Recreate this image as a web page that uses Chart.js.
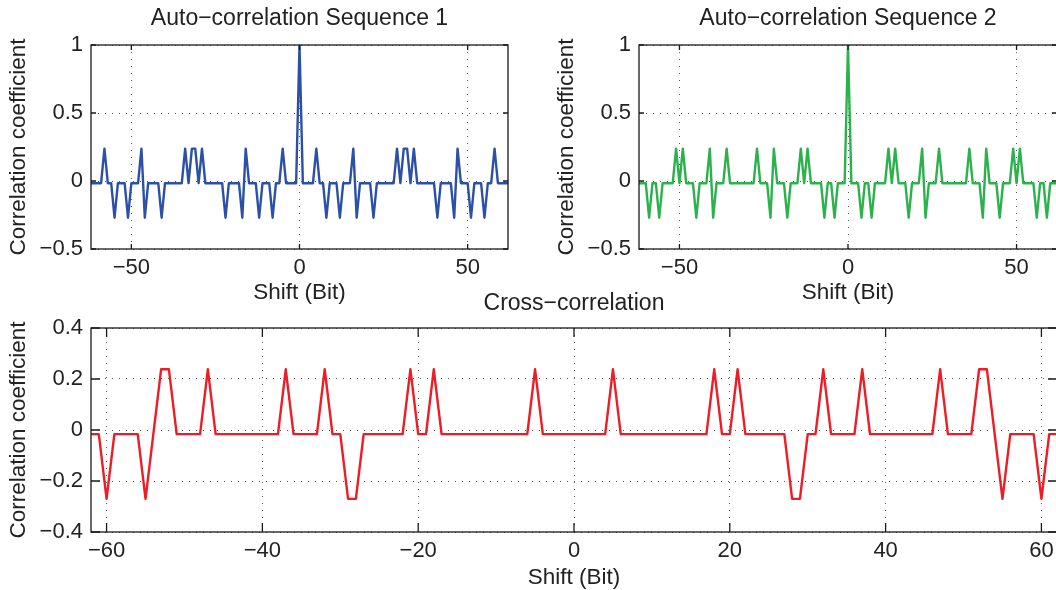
<!DOCTYPE html>
<html>
<head>
<meta charset="utf-8">
<script src="https://cdn.jsdelivr.net/npm/chart.js@4.4.1/dist/chart.umd.min.js"></script>
<style>
    html, body { margin: 0; padding: 0; background: #fff; }
    body { position: relative; width: 1056px; height: 590px; overflow: hidden; }
    canvas { position: absolute; }
    #auto1 { left: 0; top: 0; }
    #auto2 { left: 548px; top: 0; }
    #cross { left: 0; top: 280px; }
</style>
</head>
<body>
<canvas id="auto1" width="520" height="312"></canvas>
<canvas id="auto2" width="520" height="312"></canvas>
<canvas id="cross" width="1068" height="318"></canvas>
<script>
// correlation levels of a length-63 Gold code: 15/63, -1/63, -17/63
const P = 0.238, Z = -0.016, N = -0.27;

const shifts = [
    -62, -61, -60, -59, -58, -57, -56, -55, -54, -53,
    -52, -51, -50, -49, -48, -47, -46, -45, -44, -43,
    -42, -41, -40, -39, -38, -37, -36, -35, -34, -33,
    -32, -31, -30, -29, -28, -27, -26, -25, -24, -23,
    -22, -21, -20, -19, -18, -17, -16, -15, -14, -13,
    -12, -11, -10, -9, -8, -7, -6, -5, -4, -3,
    -2, -1, 0, 1, 2, 3, 4, 5, 6, 7,
    8, 9, 10, 11, 12, 13, 14, 15, 16, 17,
    18, 19, 20, 21, 22, 23, 24, 25, 26, 27,
    28, 29, 30, 31, 32, 33, 34, 35, 36, 37,
    38, 39, 40, 41, 42, 43, 44, 45, 46, 47,
    48, 49, 50, 51, 52, 53, 54, 55, 56, 57,
    58, 59, 60, 61, 62
];

const autoSeq1 = [
    Z, Z, Z, Z, P, Z, Z, N, Z, Z,
    Z, N, Z, Z, Z, P, N, Z, Z, Z,
    Z, N, Z, Z, Z, Z, Z, Z, P, Z,
    P, P, Z, P, Z, Z, Z, Z, Z, Z,
    N, Z, Z, Z, Z, N, P, Z, Z, Z,
    N, Z, Z, Z, N, Z, Z, P, Z, Z,
    Z, Z, 1, Z, Z, Z, Z, P, Z, Z,
    N, Z, Z, Z, N, Z, Z, Z, P, N,
    Z, Z, Z, Z, N, Z, Z, Z, Z, Z,
    Z, P, Z, P, P, Z, P, Z, Z, Z,
    Z, Z, Z, N, Z, Z, Z, Z, N, P,
    Z, Z, Z, N, Z, Z, Z, N, Z, Z,
    P, Z, Z, Z, Z
];

const autoSeq2 = [
    Z, Z, Z, N, Z, Z, N, Z, Z, Z,
    Z, P, Z, P, Z, Z, Z, N, Z, Z,
    Z, P, N, Z, Z, Z, P, Z, Z, Z,
    Z, Z, Z, Z, Z, P, Z, Z, Z, N,
    P, Z, Z, Z, N, Z, Z, Z, P, Z,
    P, Z, Z, Z, Z, N, Z, Z, N, Z,
    Z, Z, 1, Z, Z, Z, N, Z, Z, N,
    Z, Z, Z, Z, P, Z, P, Z, Z, Z,
    N, Z, Z, Z, P, N, Z, Z, Z, P,
    Z, Z, Z, Z, Z, Z, Z, Z, P, Z,
    Z, Z, N, P, Z, Z, Z, N, Z, Z,
    Z, P, Z, P, Z, Z, Z, Z, N, Z,
    Z, N, Z, Z, Z
];

const crossSeq = [
    Z, Z, N, Z, Z, Z, Z, N, Z, P,
    P, Z, Z, Z, Z, P, Z, Z, Z, Z,
    Z, Z, Z, Z, Z, P, Z, Z, Z, Z,
    P, Z, Z, N, N, Z, Z, Z, Z, Z,
    Z, P, Z, Z, P, Z, Z, Z, Z, Z,
    Z, Z, Z, Z, Z, Z, Z, P, Z, Z,
    Z, Z, Z, Z, Z, Z, Z, P, Z, Z,
    Z, Z, Z, Z, Z, Z, Z, Z, Z, Z,
    P, Z, Z, P, Z, Z, Z, Z, Z, Z,
    N, N, Z, Z, P, Z, Z, Z, Z, P,
    Z, Z, Z, Z, Z, Z, Z, Z, Z, P,
    Z, Z, Z, Z, P, P, Z, N, Z, Z,
    Z, Z, N, Z, Z
];

const autoXTicks = [-50, 0, 50];
const autoYTicks = [-0.5, 0, 0.5, 1];
const crossXTicks = [-60, -40, -20, 0, 20, 40, 60];
const crossYTicks = [-0.4, -0.2, 0, 0.2, 0.4];

Chart.defaults.font.family = '"Liberation Sans", Arial, Helvetica, sans-serif';
Chart.defaults.color = '#222';

const minus = v => String(v).replace('-', '\u2212');

// box around the axes with inward ticks, like the original figure
const framePlugin = {
    id: 'frame',
    afterDatasetsDraw(chart, args, opts) {
        const { ctx, chartArea: a, scales } = chart;
        const len = opts.tickLen || 5;
        ctx.save();
        ctx.strokeStyle = '#1a1a1a';
        ctx.lineWidth = 1.3;
        ctx.beginPath();
        scales.x.ticks.forEach(t => {
            const px = scales.x.getPixelForValue(t.value);
            ctx.moveTo(px, a.bottom); ctx.lineTo(px, a.bottom - len);
            ctx.moveTo(px, a.top); ctx.lineTo(px, a.top + len);
        });
        scales.y.ticks.forEach(t => {
            const py = scales.y.getPixelForValue(t.value);
            ctx.moveTo(a.left, py); ctx.lineTo(a.left + len, py);
            ctx.moveTo(a.right, py); ctx.lineTo(a.right - len, py);
        });
        ctx.stroke();
        ctx.strokeRect(a.left, a.top, a.right - a.left, a.bottom - a.top);
        ctx.restore();
    }
};

function makeChart(id, o) {
    const ctx = document.getElementById(id);
    return new Chart(ctx, {
        type: 'line',
        data: {
            datasets: [{
                data: shifts.map((s, i) => ({ x: s, y: o.values[i] })),
                borderColor: o.color,
                borderWidth: 2.4,
                borderJoinStyle: 'round',
                borderCapStyle: 'round',
                pointRadius: 0,
                tension: 0,
                fill: false
            }]
        },
        plugins: [framePlugin],
        options: {
            responsive: false,
            animation: false,
            layout: { padding: { left: 0, right: o.padRight, top: 0, bottom: 0 } },
            plugins: {
                legend: { display: false },
                tooltip: { enabled: false },
                frame: { tickLen: o.tickLen },
                title: {
                    display: true,
                    text: o.title,
                    fullSize: false,
                    color: '#222',
                    font: { size: 23, weight: 'normal' },
                    padding: { top: o.titleTop, bottom: o.titleBottom }
                }
            },
            scales: {
                x: {
                    type: 'linear',
                    min: -62,
                    max: 62,
                    afterBuildTicks: s => { s.ticks = o.xTicks.map(v => ({ value: v })); },
                    afterFit: s => { s.height = o.xAxisHeight; },
                    grid: { color: 'rgba(0,0,0,0.65)', lineWidth: 1, drawTicks: false },
                    border: { display: false, dash: [1, 6] },
                    ticks: { padding: 6, font: { size: 22 }, color: '#222', callback: minus, maxRotation: 0 },
                    title: { display: true, text: 'Shift (Bit)', color: '#222', font: { size: 22.5 }, padding: { top: 0, bottom: o.xTitleBottom } }
                },
                y: {
                    min: o.yMin,
                    max: o.yMax,
                    afterBuildTicks: s => { s.ticks = o.yTicks.map(v => ({ value: v })); },
                    afterFit: s => { s.width = 91; },
                    grid: { color: 'rgba(0,0,0,0.65)', lineWidth: 1, drawTicks: false },
                    border: { display: false, dash: [1, 6] },
                    ticks: { padding: 8, font: { size: 22 }, color: '#222', callback: minus },
                    title: { display: true, text: 'Correlation coefficient', color: '#222', font: { size: 22.5 }, padding: { top: 5.5, bottom: 0 } }
                }
            }
        }
    });
}

makeChart('auto1', {
    values: autoSeq1, color: '#2b50a6', title: 'Auto\u2212correlation Sequence 1',
    xTicks: autoXTicks, yTicks: autoYTicks, yMin: -0.5, yMax: 1,
    padRight: 12, titleTop: 5.2, titleBottom: 12.2, xAxisHeight: 63, xTitleBottom: 5.5, tickLen: 5
});

makeChart('auto2', {
    values: autoSeq2, color: '#2bb24c', title: 'Auto\u2212correlation Sequence 2',
    xTicks: autoXTicks, yTicks: autoYTicks, yMin: -0.5, yMax: 1,
    padRight: 11, titleTop: 5.2, titleBottom: 12.2, xAxisHeight: 63, xTitleBottom: 5.5, tickLen: 5
});

makeChart('cross', {
    values: crossSeq, color: '#ee1c25', title: 'Cross\u2212correlation',
    xTicks: crossXTicks, yTicks: crossYTicks, yMin: -0.4, yMax: 0.4,
    padRight: 11, titleTop: 9.5, titleBottom: 10.9, xAxisHeight: 66, xTitleBottom: 6.5, tickLen: 9
});
</script>
</body>
</html>
